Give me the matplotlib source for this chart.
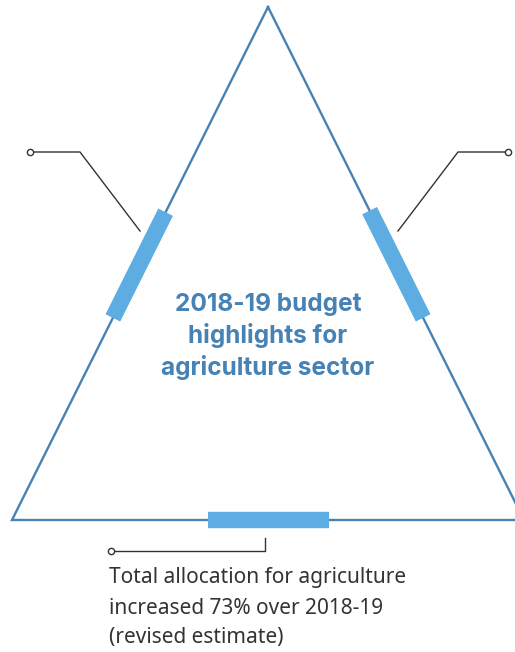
import matplotlib
matplotlib.use("Agg")
import matplotlib.pyplot as plt

# triangle corners (pixel space, y down)
tri_x = [268, 12, 524]
tri_y = [7, 520, 520]

# highlighted stretch on each edge, as fraction along the edge
left_span = [0.40, 0.606]
right_span = [0.397, 0.606]
base_span = [0.383, 0.619]

title_lines = ["2018-19 budget", "highlights for", "agriculture sector"]
note_lines = ["Total allocation for agriculture",
              "increased 73% over 2018-19",
              "(revised estimate)"]

line_col = "#4682b4"
bar_col = "#5dade2"
lead_col = "#333333"

fig = plt.figure(figsize=(5.15, 6.52), dpi=100)
ax = fig.add_axes([0, 0, 1, 1])
ax.set_xlim(0, 515)
ax.set_ylim(652, 0)
ax.axis("off")

# outline
ax.plot(tri_x + [tri_x[0]], tri_y + [tri_y[0]], color=line_col, lw=1.7,
        solid_joinstyle="miter", zorder=2)


def seg(p0, p1, span):
    xs = [p0[0] + (p1[0] - p0[0]) * t for t in span]
    ys = [p0[1] + (p1[1] - p0[1]) * t for t in span]
    return xs, ys


top = (tri_x[0], tri_y[0])
bl = (tri_x[1], tri_y[1])
br = (tri_x[2], tri_y[2])
for a, b, s in [(top, bl, left_span), (top, br, right_span), (bl, br, base_span)]:
    xs, ys = seg(a, b, s)
    ax.plot(xs, ys, color=bar_col, lw=11.8, solid_capstyle="butt", zorder=3)

# leader lines
ax.plot([30, 80, 140], [152, 152, 231], color=lead_col, lw=1.0, zorder=4)
ax.plot([508, 458, 398], [152, 152, 231], color=lead_col, lw=1.0, zorder=4)
ax.plot([111, 265, 265], [551, 551, 538], color=lead_col, lw=1.0, zorder=4)
ax.plot([30, 508, 111], [152, 152, 551], "o", ms=4.5, mfc="white",
        mec=lead_col, mew=1.0, zorder=5)

# centre title
for i, t in enumerate(title_lines):
    ax.text(268, 304 + i * 32, t, ha="center", va="center", fontsize=17.6,
            fontweight="bold", color=line_col, family="Inter")

# bottom note
for i, t in enumerate(note_lines):
    ax.text(109, 578 + i * 30, t, ha="left", va="center", fontsize=15,
            color="#333333", family="Noto Sans")

fig.savefig("out.png", dpi=100)
